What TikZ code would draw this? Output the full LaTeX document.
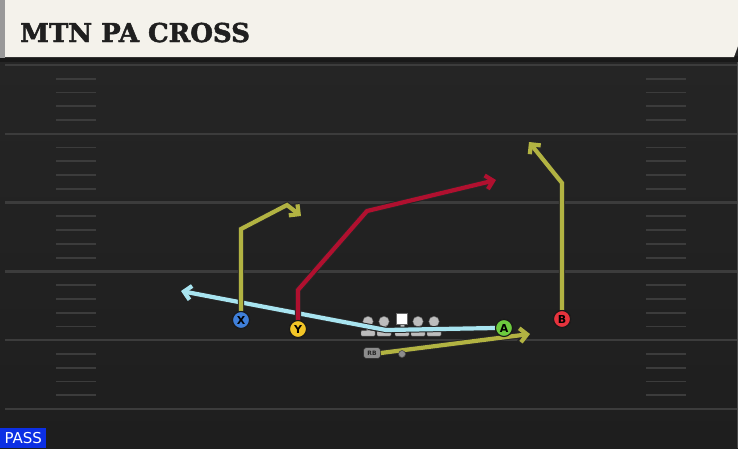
\documentclass[tikz,border=0pt]{standalone}
\usepackage{fontspec}
\setmainfont{DejaVu Sans}
\newfontfamily\titlefont{DejaVu Serif}[UprightFont={* Bold},FakeBold=1.8]
\usetikzlibrary{arrows.meta}
\definecolor{fieldtop}{HTML}{262626}
\definecolor{fieldbot}{HTML}{1E1E1E}
\definecolor{yardline}{HTML}{3C3C3C}
\definecolor{cream}{HTML}{F4F2EB}
\definecolor{olive}{HTML}{B2B342}
\definecolor{skyblue}{HTML}{A8E4F0}
\definecolor{crimson}{HTML}{B0102F}
\definecolor{xblue}{HTML}{3F7FD9}
\definecolor{yyellow}{HTML}{F2C526}
\definecolor{agreen}{HTML}{6CCB3E}
\definecolor{bred}{HTML}{E7333D}
\definecolor{linegray}{HTML}{BDBDBD}
\definecolor{passblue}{HTML}{0C2FE4}
\begin{document}
\begin{tikzpicture}[x=1pt,y=-1pt,
    player/.style={circle,draw=black!90,line width=1.1pt,minimum size=17pt,
      inner sep=0pt,font=\bfseries\fontsize{11}{11}\selectfont},
    route/.style={line width=4.2pt,line join=miter,
      -{Straight Barb[length=7pt,width=14pt]},
      preaction={draw=black!85,line width=6.2pt}},
    lineman/.style={fill=linegray,draw=black!60,line width=0.4pt}]
  \useasboundingbox (0,0) rectangle (738,448);
  % field
  \shade[top color=fieldtop,bottom color=fieldbot] (0,0) rectangle (738,448);
  \foreach \y in {65,133.8,202.6,271.4,340.2,409}
    \draw[yardline,line width=2.4pt] (5,\y) -- (738,\y);
  \foreach \i in {0,...,4}
    \foreach \j in {1,...,4} {
      \draw[yardline,line width=1.8pt] (56,65+68.8*\i+13.76*\j) -- (96,65+68.8*\i+13.76*\j);
      \draw[yardline,line width=1.8pt] (646,65+68.8*\i+13.76*\j) -- (686,65+68.8*\i+13.76*\j);
    }
  \draw[black!70,line width=0.8pt] (737.5,58) -- (737.5,448);
  % title bar
  \fill[black!90] (0,56) rectangle (738,62);
  \fill[black!40] (0,0) rectangle (5,58);
  \fill[cream] (5,0) -- (738,0) -- (738,46) -- (734,57) -- (5,57) -- cycle;
  \node[anchor=base west,inner sep=0pt,font=\titlefont\fontsize{26}{26}\selectfont,
    text=black!88] (title) at (20,42) {MTN PA CROSS};
  % offensive line
  \foreach \x in {368,384,402,418,434} {
    \fill[lineman] (\x-2,322) rectangle (\x+2,332);
    \fill[lineman,rounded corners=1pt] (\x-7,330.5) rectangle (\x+7,336);
  }
  \foreach \x in {368,384,418,434}
    \fill[lineman] (\x,321.5) circle (5.2);
  \fill[white,draw=black!60,line width=0.4pt] (396.5,313.5) rectangle (407.5,324);
  % players
  \draw
    (241,320) node[player,fill=xblue] (X){X}
    (298,329) node[player,fill=yyellow] (Y){Y}
    (504,328) node[player,fill=agreen] (A){A}
    (562,319) node[player,fill=bred] (B){B}
    (372,353) node[rounded corners=3pt,fill=black!45,draw=black!80,line width=0.6pt,
      minimum width=17pt,minimum height=11pt,inner sep=0pt,
      font=\bfseries\fontsize{6}{6}\selectfont,text=black!85] (RB){RB}
    (402,354) node[circle,fill=black!45,draw=black!75,line width=0.5pt,
      minimum size=7pt,inner sep=0pt] (rbdot){};
  % route points
  \coordinate (x1) at (241,229);
  \coordinate (x2) at (287,205);
  \coordinate (x3) at (301,216);
  \coordinate (y1) at (298,290);
  \coordinate (y2) at (367,211);
  \coordinate (y3) at (496,180);
  \coordinate (a1) at (386,330);
  \coordinate (a2) at (181,291);
  \coordinate (b1) at (562,183);
  \coordinate (b2) at (529,142);
  \coordinate (r1) at (530,334);
  \draw[route,skyblue] (A.west) -- (a1) -- (a2);
  \draw[route,olive] (X.north) -- (x1) -- (x2) -- (x3);
  \draw[route,crimson] (Y.north) -- (y1) -- (y2) -- (y3);
  \draw[route,olive] (B.north) -- (b1) -- (b2);
  \draw[route,olive] (RB.east) -- (r1);
  % redraw players on top
  \draw
    (241,320) node[player,fill=xblue]{X}
    (298,329) node[player,fill=yyellow]{Y}
    (504,328) node[player,fill=agreen]{A}
    (562,319) node[player,fill=bred]{B}
    (402,354) node[circle,fill=black!45,draw=black!75,line width=0.5pt,
      minimum size=7pt,inner sep=0pt]{};
  % pass tag
  \node[fill=passblue,text=white,anchor=south west,minimum width=46pt,minimum height=20pt,
    inner sep=0pt,font=\fontsize{15}{15}\selectfont] (tag) at (0,448) {PASS};
\end{tikzpicture}
\end{document}
